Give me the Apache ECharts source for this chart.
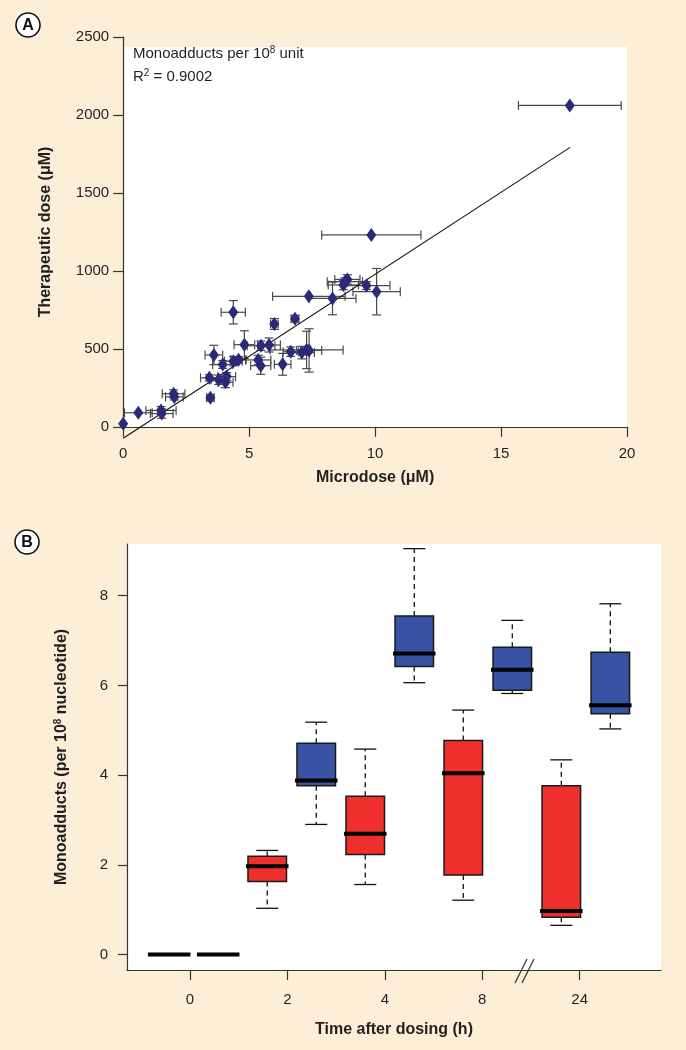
<!DOCTYPE html>
<html><head><meta charset="utf-8">
<script src="https://cdn.jsdelivr.net/npm/echarts@6/dist/echarts.min.js"></script>
<style>html,body{margin:0;padding:0;background:#FDEED8;} #c{width:686px;height:1050px;}</style>
</head><body><div id="c"></div>
<script>
// ---------- Panel A data ----------
const microdose   = [0, 0.6, 1.5, 1.53, 2.0, 2.03, 3.42, 3.46, 3.6, 3.79, 3.95, 4.06, 4.11, 4.37, 4.37, 4.58, 4.81, 5.36, 5.46, 5.47, 5.79, 6.0, 6.33, 6.65, 6.82, 7.09, 7.28, 7.38, 7.37, 8.31, 8.74, 8.8, 8.9, 9.66, 10.06, 9.85, 17.73];
const therapeutic = [20, 90, 105, 85, 212, 192, 314, 186, 461, 302, 400, 286, 322, 735, 421, 430, 527, 429, 392, 520, 525, 660, 401, 482, 694, 476, 493, 490, 837, 824, 910, 931, 946, 906, 867, 1231, 2062];
const microErr    = [0, 0.55, 0.6, 0.45, 0.45, 0.35, 0.35, 0.15, 0.35, 0.3, 0.4, 0.3, 0.35, 0.48, 0.35, 0.3, 0.41, 0.5, 0.4, 0.55, 0.45, 0.15, 0.33, 0.3, 0.15, 0.5, 1.45, 0.5, 1.44, 0.93, 0.6, 0.7, 0.5, 0.93, 0.94, 1.97, 2.04];
const therapErr   = [0, 0, 25, 30, 25, 20, 20, 20, 62, 30, 25, 35, 25, 75, 30, 20, 89, 30, 55, 30, 45, 35, 70, 30, 20, 40, 120, 139, 0, 105, 30, 25, 30, 25, 149, 0, 0];
const fitLine     = [[0, -74], [17.74, 1793]];
const annotation1 = 'Monoadducts per 10{sup|8} unit';
const annotation2 = 'R{sup|2} = 0.9002';

// ---------- Panel B data ----------
const timeLabels = ['0', '2', '4', '8', '24'];
// [lower whisker, Q1, median, Q3, upper whisker]
const redStats = [
  [0, 0, 0, 0, 0],
  [1.03, 1.63, 1.97, 2.19, 2.32],
  [1.56, 2.23, 2.69, 3.53, 4.58],
  [1.21, 1.77, 4.04, 4.77, 5.45],
  [0.65, 0.83, 0.97, 3.76, 4.34]
];
const blueStats = [
  [0, 0, 0, 0, 0],
  [2.90, 3.76, 3.88, 4.71, 5.18],
  [6.06, 6.42, 6.71, 7.55, 9.05],
  [5.82, 5.89, 6.35, 6.85, 7.45],
  [5.03, 5.37, 5.56, 6.74, 7.82]
];
const yTicksB = [0, 2, 4, 6, 8];

// ---------- build ----------
const FONT = '"Liberation Sans", Arial, Helvetica, sans-serif';
const TXT = '#231F20';
const pointsA = microdose.map((x, i) => [x, therapeutic[i]]);
const errA = microdose.map((x, i) => [x, therapeutic[i], microErr[i], therapErr[i]]);

// box positions: red = 1,3,5..., blue = 2,4,6...
const redBoxes = redStats.map((s, k) => [1 + 2 * k].concat(s));
const blueBoxes = blueStats.map((s, k) => [2 + 2 * k].concat(s));
const tickPosB = timeLabels.map((t, k) => 1.424 + 1.9875 * k);

function errRender(params, api) {
  const x = api.value(0), y = api.value(1), xe = api.value(2), ye = api.value(3);
  const st = { stroke: '#4a4a4a', lineWidth: 1.2 };
  const ch = [];
  const cap = 4.5;
  if (xe > 0) {
    const a = api.coord([x - xe, y]), b = api.coord([x + xe, y]);
    ch.push({ type: 'line', shape: { x1: a[0], y1: a[1], x2: b[0], y2: b[1] }, style: st });
    ch.push({ type: 'line', shape: { x1: a[0], y1: a[1] - cap, x2: a[0], y2: a[1] + cap }, style: st });
    ch.push({ type: 'line', shape: { x1: b[0], y1: b[1] - cap, x2: b[0], y2: b[1] + cap }, style: st });
  }
  if (ye > 0) {
    const a = api.coord([x, y - ye]), b = api.coord([x, y + ye]);
    ch.push({ type: 'line', shape: { x1: a[0], y1: a[1], x2: b[0], y2: b[1] }, style: st });
    ch.push({ type: 'line', shape: { x1: a[0] - cap, y1: a[1], x2: a[0] + cap, y2: a[1] }, style: st });
    ch.push({ type: 'line', shape: { x1: b[0] - cap, y1: b[1], x2: b[0] + cap, y2: b[1] }, style: st });
  }
  return { type: 'group', children: ch };
}

function boxRender(color) {
  return function (params, api) {
    const x = api.value(0);
    const lo = api.coord([x, api.value(1)]);
    const q1 = api.coord([x, api.value(2)]);
    const md = api.coord([x, api.value(3)]);
    const q3 = api.coord([x, api.value(4)]);
    const hi = api.coord([x, api.value(5)]);
    const bw = api.size([0.786, 0])[0];
    const cx = lo[0], h = bw / 2, capH = 11;
    const dash = { stroke: '#111', lineWidth: 1.3, lineDash: [5, 4] };
    const solid = { stroke: '#111', lineWidth: 1.3 };
    const ch = [];
    if (hi[1] < q3[1]) {
      ch.push({ type: 'line', shape: { x1: cx, y1: q3[1], x2: cx, y2: hi[1] }, style: dash });
      ch.push({ type: 'line', shape: { x1: cx - capH, y1: hi[1], x2: cx + capH, y2: hi[1] }, style: solid });
    }
    if (lo[1] > q1[1]) {
      ch.push({ type: 'line', shape: { x1: cx, y1: q1[1], x2: cx, y2: lo[1] }, style: dash });
      ch.push({ type: 'line', shape: { x1: cx - capH, y1: lo[1], x2: cx + capH, y2: lo[1] }, style: solid });
    }
    if (q1[1] - q3[1] > 0.5) {
      ch.push({ type: 'rect', shape: { x: cx - h, y: q3[1], width: bw, height: q1[1] - q3[1] },
        style: { fill: color, stroke: '#1a1a1a', lineWidth: 1.5 } });
    }
    ch.push({ type: 'line', shape: { x1: cx - h - 2, y1: md[1], x2: cx + h + 2, y2: md[1] },
      style: { stroke: '#000', lineWidth: 4 } });
    return { type: 'group', children: ch };
  };
}

function circled(letter, cx, cy) {
  return {
    type: 'group', children: [
      { type: 'circle', shape: { cx: cx, cy: cy, r: 12 }, style: { fill: '#fff', stroke: '#111', lineWidth: 1.6 } },
      { type: 'text', x: cx, y: cy + 1, style: { text: letter, font: 'bold 16px ' + FONT, fill: '#111', align: 'center', verticalAlign: 'middle' } }
    ]
  };
}

const axisLineSt = { show: true, onZero: false, lineStyle: { color: '#333', width: 1.2 } };
const tickSt = { show: true, length: 9, lineStyle: { color: '#333', width: 1.2 } };
const labelSt = { color: TXT, fontSize: 15, fontFamily: FONT };
const nameSt = { color: TXT, fontSize: 16, fontWeight: 'bold', fontFamily: FONT };
const plain = v => String(v);

const option = {
  backgroundColor: '#FDEED8',
  animation: false,
  grid: [
    { left: 123.2, right: 59, top: 37.2, bottom: 623.2 },
    { left: 127, right: 25, top: 544, bottom: 80, show: true, backgroundColor: '#fff', borderWidth: 0 }
  ],
  xAxis: [
    { gridIndex: 0, type: 'value', min: 0, max: 20, interval: 5,
      axisLine: axisLineSt, axisTick: Object.assign({}, tickSt, { length: 10 }), splitLine: { show: false },
      axisLabel: Object.assign({ margin: 20, formatter: plain }, labelSt),
      name: 'Microdose (μM)', nameLocation: 'middle', nameGap: 43, nameTextStyle: nameSt },
    { gridIndex: 1, type: 'value', min: 0.139, max: 11.034,
      axisLine: axisLineSt, axisTick: Object.assign({ customValues: tickPosB }, tickSt, { length: 10 }), splitLine: { show: false },
      axisLabel: Object.assign({ margin: 22, customValues: tickPosB,
        formatter: function (v) {
          let best = 0, d = 1e9;
          tickPosB.forEach((p, i) => { if (Math.abs(p - v) < d) { d = Math.abs(p - v); best = i; } });
          return timeLabels[best];
        } }, labelSt),
      name: 'Time after dosing (h)', nameLocation: 'middle', nameGap: 52, nameTextStyle: nameSt }
  ],
  yAxis: [
    { gridIndex: 0, type: 'value', min: 0, max: 2500, interval: 500,
      axisLine: axisLineSt, axisTick: Object.assign({}, tickSt, { length: 10 }), splitLine: { show: false },
      axisLabel: Object.assign({ margin: 14, formatter: plain }, labelSt),
      name: 'Therapeutic dose (μM)', nameLocation: 'middle', nameGap: 70, nameTextStyle: nameSt },
    { gridIndex: 1, type: 'value', min: -0.346, max: 9.153,
      axisLine: axisLineSt, axisTick: Object.assign({ customValues: yTicksB }, tickSt), splitLine: { show: false },
      axisLabel: Object.assign({ margin: 19, customValues: yTicksB, formatter: plain }, labelSt),
      name: 'Monoadducts (per 10{sup|8} nucleotide)', nameLocation: 'middle', nameGap: 56,
      nameTextStyle: Object.assign({ rich: { sup: { fontSize: 10, fontWeight: 'bold', fontFamily: FONT, color: TXT, verticalAlign: 'top', padding: [0, 0, 8, 0] } } }, nameSt) }
  ],
  graphic: [
    { type: 'rect', z: -10, shape: { x: 124, y: 47, width: 503, height: 380 }, style: { fill: '#fff' } },
    circled('A', 28, 25),
    circled('B', 27, 542),
    { type: 'text', x: 133, y: 54, style: { text: annotation1, font: '15px ' + FONT, fill: TXT, verticalAlign: 'middle',
      rich: { sup: { fontSize: 10, fontFamily: FONT, fill: TXT, verticalAlign: 'top', padding: [0, 0, 7, 0] } } } },
    { type: 'text', x: 133, y: 77, style: { text: annotation2, font: '15px ' + FONT, fill: TXT, verticalAlign: 'middle',
      rich: { sup: { fontSize: 10, fontFamily: FONT, fill: TXT, verticalAlign: 'top', padding: [0, 0, 7, 0] } } } },
    { type: 'line', shape: { x1: 515, y1: 983, x2: 527, y2: 959 }, style: { stroke: '#333', lineWidth: 1.2 } },
    { type: 'line', shape: { x1: 522, y1: 983, x2: 534, y2: 959 }, style: { stroke: '#333', lineWidth: 1.2 } }
  ],
  series: [
    { type: 'custom', xAxisIndex: 0, yAxisIndex: 0, renderItem: errRender, data: errA, z: 3, clip: false },
    { type: 'line', xAxisIndex: 0, yAxisIndex: 0, data: fitLine, symbol: 'none', clip: false,
      lineStyle: { color: '#111', width: 1.1 }, z: 4 },
    { type: 'scatter', xAxisIndex: 0, yAxisIndex: 0, data: pointsA, symbol: 'diamond', symbolSize: [10, 14],
      itemStyle: { color: '#2B2979', opacity: 1 }, z: 5, clip: false },
    { type: 'custom', xAxisIndex: 1, yAxisIndex: 1, renderItem: boxRender('#EE2F2C'), data: redBoxes, z: 3 },
    { type: 'custom', xAxisIndex: 1, yAxisIndex: 1, renderItem: boxRender('#3953A4'), data: blueBoxes, z: 3 }
  ]
};
const chart = echarts.init(document.getElementById('c'), null, { renderer: 'canvas' });
chart.setOption(option);
</script></body></html>
